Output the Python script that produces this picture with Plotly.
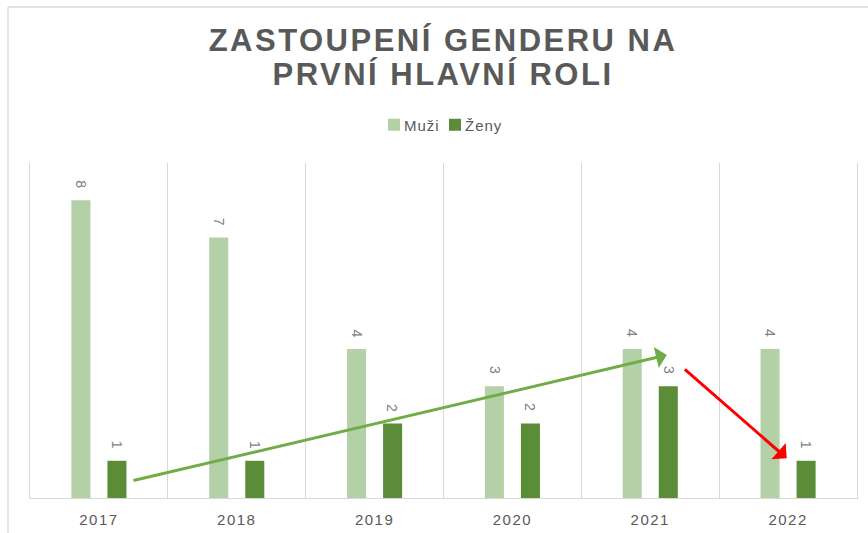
import plotly.graph_objects as go

# ---- data ----
years = ["2017", "2018", "2019", "2020", "2021", "2022"]
muzi = [8, 7, 4, 3, 4, 4]
zeny = [1, 1, 2, 2, 3, 1]
series_names = ["Muži", "Ženy"]
title_text = "ZASTOUPENÍ GENDERU NA<br>PRVNÍ HLAVNÍ ROLI"

# trend arrows (tail -> head) in data coordinates (category index, value)
green_arrow = dict(tail=(0.24, 0.46), head=(4.12, 3.84))
red_arrow = dict(tail=(4.24, 3.49), head=(4.99, 1.07))

# ---- style ----
W, H = 868, 533
ML, MR, MT, MB = 30, 11, 163, 35
FONT = "Liberation Sans, Arial, sans-serif"
TXT = "#595959"
GRID = "#d9d9d9"
C_MUZI = "#b4d0a7"
C_ZENY = "#5b8c38"
BARGAP, BARGROUPGAP = 0.477, 0.472

pw, ph = W - ML - MR, H - MT - MB
cat_px = pw / len(years)
bar_offset_px = (1 - BARGAP) / 4 * cat_px

fig = go.Figure()
for k, (name, vals, col) in enumerate([(series_names[0], muzi, C_MUZI),
                                       (series_names[1], zeny, C_ZENY)]):
    fig.add_trace(go.Bar(
        x=years, y=vals, name=name, marker=dict(color=col, line=dict(width=0)),
        hoverinfo="skip", legendwidth=16 if k == 0 else 45,
    ))
    sign = -1 if k == 0 else 1
    for i, v in enumerate(vals):
        fig.add_annotation(
            x=i, y=v, xref="x", yref="y", text=str(v), showarrow=False,
            textangle=90, xshift=sign * bar_offset_px, yshift=16,
            xanchor="center", yanchor="middle",
            font=dict(family=FONT, size=14, color="#7f7f7f"),
        )

for arr, col in [(green_arrow, "#70ad47"), (red_arrow, "#ff0000")]:
    fig.add_annotation(
        x=arr["head"][0], y=arr["head"][1], ax=arr["tail"][0], ay=arr["tail"][1],
        xref="x", yref="y", axref="x", ayref="y", text="", showarrow=True,
        arrowhead=1, arrowsize=1.2, arrowwidth=3, arrowcolor=col, standoff=0,
    )

# outer chart border (top and left edges)
def px_x(p):
    return (p - ML) / pw
def px_y(p):
    return (H - MB - p) / ph
fig.add_shape(type="line", xref="paper", yref="paper", x0=px_x(8), x1=px_x(880),
              y0=px_y(7), y1=px_y(7), line=dict(color=GRID, width=1.3))
fig.add_shape(type="line", xref="paper", yref="paper", x0=px_x(8), x1=px_x(8),
              y0=px_y(7), y1=px_y(540), line=dict(color=GRID, width=1.3))

fig.update_layout(
    width=W, height=H, margin=dict(l=ML, r=MR, t=MT, b=MB, autoexpand=False),
    paper_bgcolor="white", plot_bgcolor="white",
    font=dict(family=FONT, color=TXT),
    title=dict(text=title_text, x=443 / W, xanchor="center", xref="container",
               y=1 - 51 / H, yanchor="top", yref="container",
               font=dict(family=FONT, size=31, color=TXT, weight="bold")),
    barmode="group", bargap=BARGAP, bargroupgap=BARGROUPGAP,
    showlegend=True,
    legend=dict(orientation="h", x=374 / W, xanchor="left", xref="container",
                y=1 - 125 / H, yanchor="middle", yref="container",
                font=dict(family=FONT, size=15, color=TXT), itemwidth=30,
                bgcolor="rgba(0,0,0,0)"),
    xaxis=dict(type="category", range=[-0.5, 5.5], tickson="boundaries", showgrid=True,
               gridcolor=GRID, gridwidth=1, showline=True, linecolor=GRID, linewidth=1,
               ticks="", tickfont=dict(family=FONT, size=15, color=TXT),
               ticklabelstandoff=8, fixedrange=True, automargin=False),
    yaxis=dict(range=[0, 9], showgrid=False, showticklabels=False, zeroline=False,
               showline=True, mirror=True, linecolor=GRID, linewidth=1, ticks="",
               fixedrange=True, automargin=False),
)

post = """
var st=document.createElement('style');
st.textContent='html,body{margin:0;padding:0}.gtitle{letter-spacing:2.5px}'
 + '.xtick text{letter-spacing:1.5px}'
 + '.legendtext{letter-spacing:1px;transform:translate(-10px,0)}';
document.head.appendChild(st);
document.querySelectorAll('.gtitle tspan.line').forEach(function(t, i){
  if (i > 0) { t.setAttribute('dy', '1.1em'); }
});
"""
fig.write_html("out.html", post_script=post, config={"displayModeBar": False})
